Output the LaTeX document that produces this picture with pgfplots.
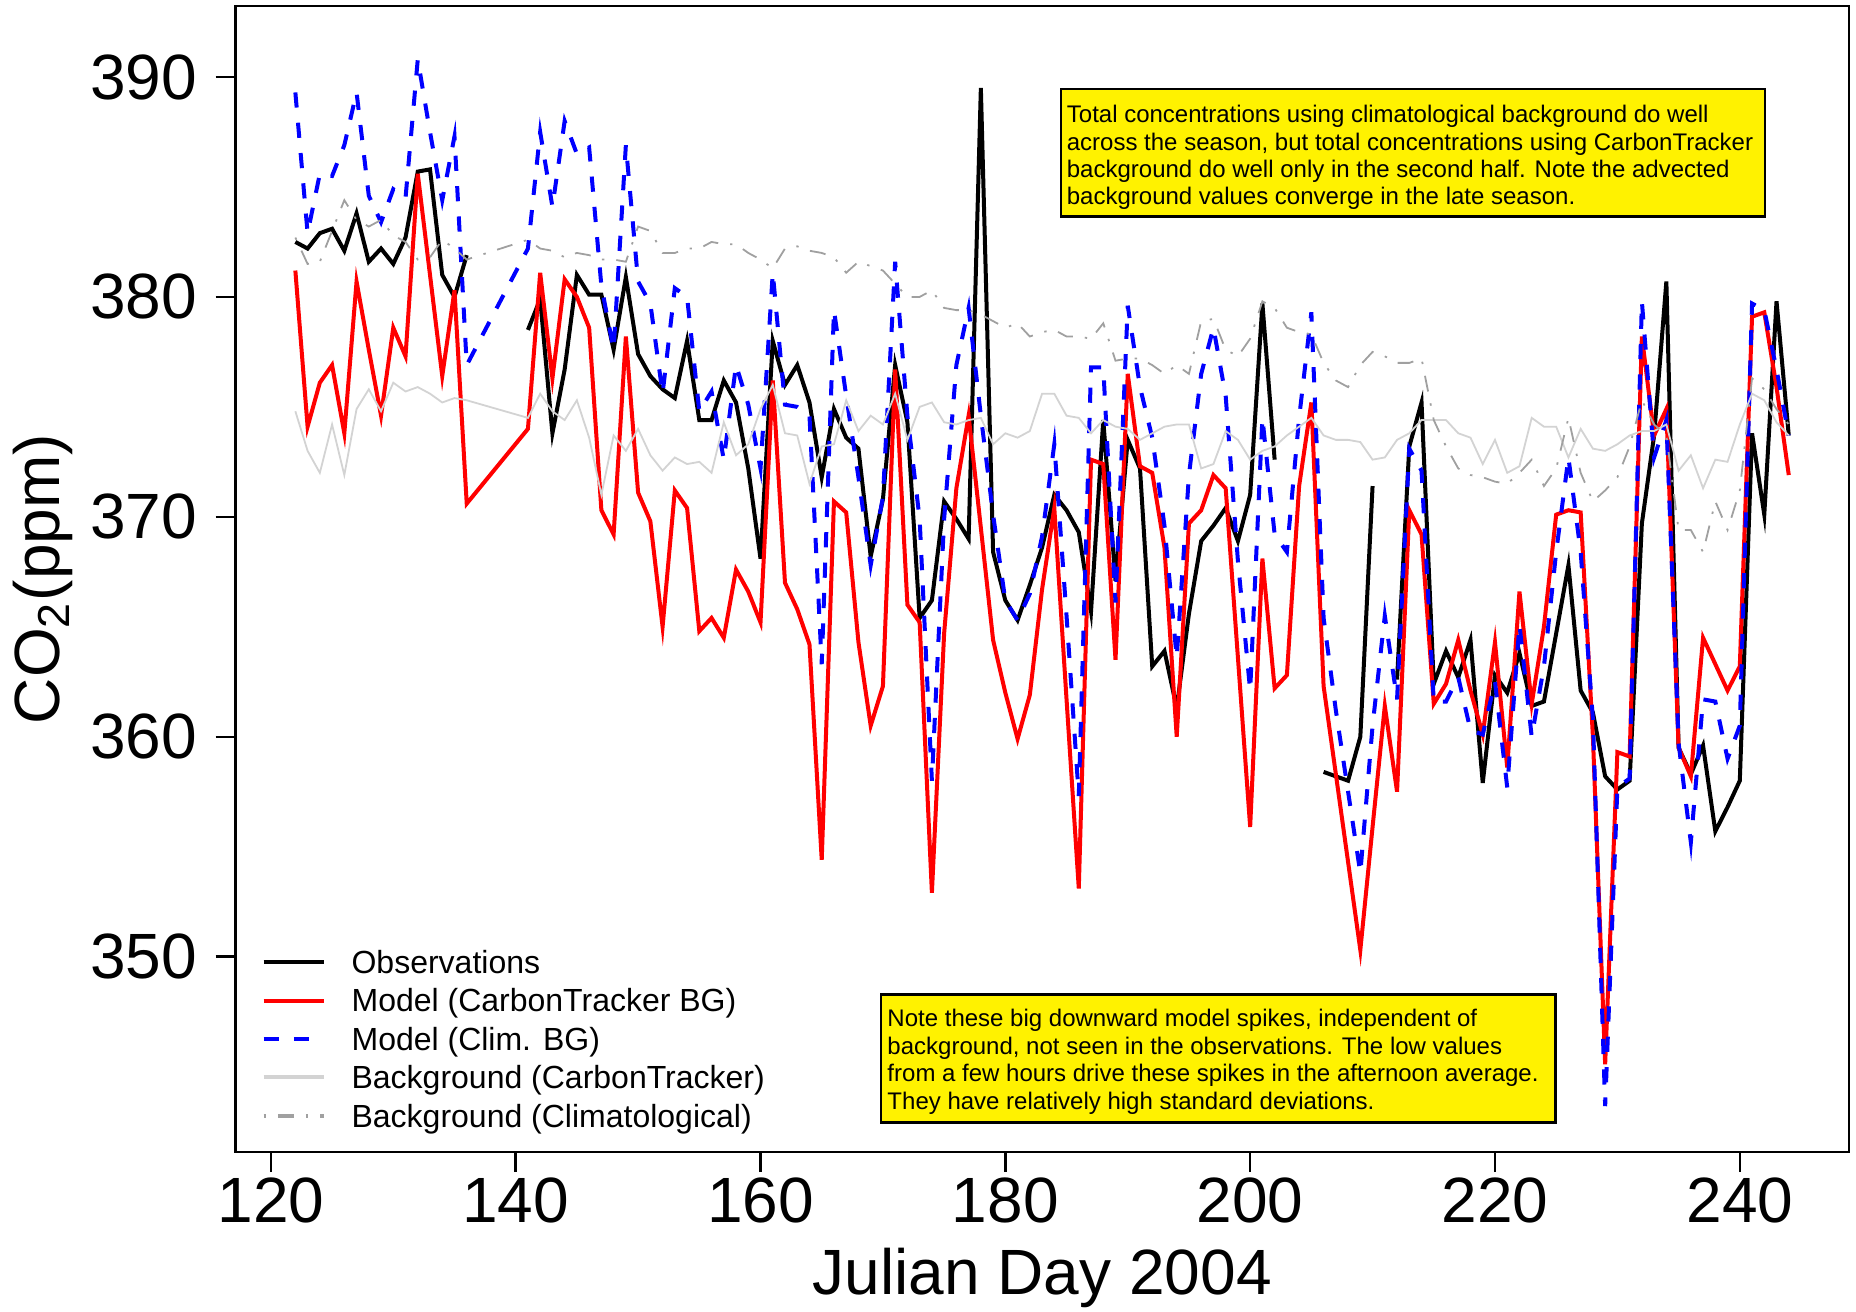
\documentclass[border=0pt]{standalone}
\usepackage{fontspec}
\setmainfont{Liberation Sans}
\usepackage{pgfplots}
\pgfplotsset{compat=1.18}
\usepackage{pgfplotstable}

\definecolor{bgct}{HTML}{D3D3D3}
\definecolor{bgcl}{HTML}{A0A0A0}

\pgfplotstableread{
d obs
122 382.5
123 382.2
124 382.9
125 383.1
126 382.1
127 383.8
128 381.6
129 382.2
130 381.5
131 382.7
132 385.7
133 385.8
134 381.0
135 380.0
136 381.9
137 nan
141 378.5
142 379.9
143 373.8
144 376.7
145 381.0
146 380.1
147 380.1
148 377.6
149 380.9
150 377.4
151 376.4
152 375.8
153 375.4
154 378.0
155 374.4
156 374.4
157 376.2
158 375.2
159 372.2
160 368.1
161 378.0
162 376.0
163 376.9
164 375.2
165 371.8
166 374.9
167 373.6
168 373.1
169 368.2
170 370.8
171 376.9
172 374.3
173 365.4
174 366.2
175 370.7
176 369.9
177 369.0
178 389.5
179 368.4
180 366.2
181 365.3
182 366.9
183 368.6
184 371.0
185 370.3
186 369.3
187 365.7
188 374.4
189 367.1
190 373.5
191 372.2
192 363.2
193 363.9
194 361.3
195 365.6
196 368.9
197 369.6
198 370.4
199 368.9
200 371.0
201 379.7
202 372.6
203 nan
206 358.4
207 358.2
208 358.0
209 360.0
210 371.4
211 nan
212 362.6
213 373.2
214 375.2
215 362.4
216 363.9
217 362.7
218 364.4
219 357.9
220 362.8
221 362.0
222 363.8
223 361.4
224 361.6
225 364.7
226 367.8
227 362.1
228 361.1
229 358.2
230 357.6
231 358.0
232 369.7
233 373.7
234 380.7
235 359.5
236 358.3
237 359.6
238 355.7
239 356.8
240 358.0
241 373.8
242 370.1
243 379.8
244 373.7
}\obsdata

\pgfplotstableread{
d ct cl bct bcl
122 381.2 389.3 374.8 382.7
123 374.1 382.9 373.0 381.5
124 376.1 385.6 372.0 381.6
125 376.9 385.5 374.2 383.0
126 373.8 386.9 371.9 384.4
127 380.7 389.3 374.9 383.5
128 377.6 384.6 375.8 383.2
129 374.6 383.4 374.8 383.5
130 378.6 384.9 376.1 382.8
131 377.3 384.5 375.7 382.5
132 385.6 390.8 375.9 381.7
133 381.0 387.5 375.6 381.8
134 376.4 384.4 375.2 382.6
135 380.3 387.3 375.4 382.2
136 370.6 376.9 375.3 381.7
141 374.0 382.2 374.5 382.6
142 381.1 387.5 375.6 382.2
143 376.3 384.1 374.8 382.1
144 380.8 388.0 374.4 381.8
145 380.0 386.5 375.3 382.0
146 378.6 386.8 373.6 381.9
147 370.3 380.5 371.0 381.7
148 369.2 377.6 373.7 381.7
149 378.2 386.9 373.0 381.6
150 371.1 380.7 374.0 383.2
151 369.8 379.7 372.8 383.0
152 365.0 375.6 372.1 382.0
153 371.2 380.4 372.7 382.0
154 370.4 380.0 372.4 382.2
155 364.8 374.8 372.5 382.2
156 365.4 375.7 372.0 382.5
157 364.5 372.6 374.3 382.4
158 367.6 376.9 372.8 382.4
159 366.6 375.1 373.3 382.0
160 365.2 372.2 374.9 381.7
161 376.2 381.1 376.0 381.3
162 367.0 375.1 373.8 382.2
163 365.8 375.0 373.7 382.3
164 364.2 374.6 371.5 382.1
165 354.4 363.3 373.2 382.0
166 370.7 379.4 373.3 381.8
167 370.2 375.5 375.3 381.1
168 364.3 371.8 373.9 381.6
169 360.5 367.8 374.6 381.4
170 362.3 370.9 374.2 381.2
171 376.7 381.6 375.6 380.6
172 366.0 374.6 373.5 380.0
173 365.2 369.9 375.0 380.0
174 352.9 358.0 375.2 380.3
175 364.7 369.9 374.3 379.5
176 371.3 376.9 374.2 379.4
177 374.6 379.5 374.4 379.4
178 369.5 374.6 374.5 379.2
179 364.4 370.1 373.3 378.9
180 362.0 366.2 373.8 378.6
181 359.9 365.3 373.6 378.8
182 361.9 366.5 373.9 378.2
183 366.7 369.1 375.6 378.4
184 370.4 373.3 375.6 378.5
185 361.7 365.5 374.6 378.2
186 353.1 357.3 374.5 378.2
187 372.6 376.8 373.8 378.1
188 372.4 376.8 374.4 378.8
189 363.5 366.1 374.1 377.1
190 376.5 379.6 374.0 377.2
191 372.3 375.9 373.5 377.2
192 372.0 373.6 373.8 376.9
193 368.6 369.6 374.1 376.5
194 360.0 363.6 374.2 376.9
195 369.7 371.9 374.2 376.5
196 370.3 376.5 372.2 378.9
197 371.9 378.6 372.4 379.0
198 371.3 375.5 373.9 377.6
199 363.6 368.0 373.5 377.3
200 355.9 362.1 372.6 378.1
201 368.1 374.5 373.0 379.8
202 362.2 369.2 373.2 379.5
203 362.8 368.4 373.7 378.6
204 371.4 374.5 374.1 378.4
205 375.2 379.3 374.5 378.3
206 362.3 365.4 373.7 377.0
207 358.3 361.2 373.5 376.2
208 354.3 357.5 373.5 375.9
209 350.3 353.8 373.4 376.9
210 355.9 360.5 372.6 377.5
211 361.4 365.5 372.7 377.3
212 357.5 361.7 373.5 377.0
213 370.3 373.1 373.8 377.0
214 369.2 372.1 374.4 377.2
215 361.5 361.6 374.4 374.4
216 362.4 361.6 374.4 373.2
217 364.4 362.7 373.8 372.2
218 362.1 360.3 373.6 371.9
219 360.1 360.1 372.4 371.8
220 364.3 362.5 373.5 371.6
221 358.6 357.7 372.0 371.5
222 366.6 365.1 372.3 372.0
223 361.5 360.0 374.5 372.6
224 365.0 363.2 374.1 371.4
225 370.1 368.4 374.1 372.2
226 370.3 372.7 372.7 374.5
227 370.2 368.4 374.0 372.0
228 360.0 360.8 373.1 370.7
229 345.1 343.2 373.0 371.2
230 359.3 357.7 373.3 371.8
231 359.1 358.1 373.7 373.2
232 378.2 379.8 373.9 375.3
233 373.7 372.7 373.9 374.2
234 374.9 374.4 374.2 373.7
235 359.5 359.7 372.1 369.4
236 358.2 355.2 372.8 369.4
237 364.5 361.7 371.3 368.4
238 363.3 361.6 372.6 370.7
239 362.1 359.0 372.5 369.4
240 363.2 360.5 374.2 371.2
241 379.1 379.7 375.6 376.3
242 379.3 379.4 375.3 375.8
243 375.9 376.7 374.3 374.9
244 371.9 373.7 373.7 374.2
}\moddata

\begin{document}
\begin{tikzpicture}
\begin{axis}[
  at={(0,0)}, anchor=south west,
  scale only axis, width=403.3pt, height=286.5pt,
  xmin=117.12, xmax=248.92, ymin=341.11, ymax=393.23,
  xtick={120,140,...,240}, ytick={350,360,...,390},
  tick align=outside, tick pos=left, major tick length=5pt,
  axis line style={line width=0.6pt},
  every tick/.style={black, line width=0.6pt},
  ticklabel style={font=\fontsize{16}{19}\selectfont},
  /pgf/number format/assume math mode=true,
  /pgf/number format/1000 sep={},
  xticklabel style={anchor=north, inner sep=0pt, yshift=-1.2pt},
  yticklabel style={anchor=east, inner sep=0pt, xshift=-4.5pt},
  xlabel={Julian Day 2004},
  xlabel style={at={(axis description cs:0.5,-0.1095)}, anchor=center, font=\fontsize{16}{19}\selectfont, inner sep=0pt},
  ylabel={CO\textsubscript{2}(ppm)},
  ylabel style={at={(axis description cs:-0.1195,0.5)}, anchor=center, font=\fontsize{16}{19}\selectfont, inner sep=0pt},
  legend image code/.code={\draw[#1] (0pt,0pt) -- (15pt,0pt);},
  legend style={at={(axis description cs:0.0161,0.1824)}, anchor=north west,
    draw=none, fill=none, inner sep=0pt, outer sep=0pt,
    column sep=6.5pt, row sep=0pt,
    font=\fontsize{8}{9.6}\selectfont,
    nodes={inner sep=0pt, text height=7.6pt, text depth=2pt}},
  legend cell align=left,
]
\addplot[black, line width=1pt, unbounded coords=jump] table[x=d, y=obs] {\obsdata};
\addlegendentry{Observations}
\addplot[red, line width=1pt] table[x=d, y=ct] {\moddata};
\addlegendentry{Model (CarbonTracker BG)}
\addplot[blue, line width=1pt, dash pattern=on 3.8pt off 3.8pt] table[x=d, y=cl] {\moddata};
\addlegendentry{Model (Clim. BG)}
\addplot[bgct, line width=0.45pt, legend image post style={line width=1pt}] table[x=d, y=bct] {\moddata};
\addlegendentry{Background (CarbonTracker)}
\addplot[bgcl, line width=0.45pt, dash pattern=on 0.6pt off 3pt on 4pt off 3pt, legend image post style={line width=1pt}] table[x=d, y=bcl] {\moddata};
\addlegendentry{Background (Climatological)}

\draw[fill=yellow, line width=0.6pt] (axis cs:184.57,383.65) rectangle (axis cs:242.07,389.46);
\node[anchor=north west, inner sep=0pt, align=left, font=\fontsize{6}{6.85}\selectfont]
  at ([xshift=1.2pt,yshift=-3.9pt]axis cs:184.57,389.46)
  {Total concentrations using climatological background do well\\
   across the season, but total concentrations using CarbonTracker\\
   background do well only in the second half. Note the advected\\
   background values converge in the late season.};
\draw[fill=yellow, line width=0.6pt] (axis cs:169.85,342.45) rectangle (axis cs:224.94,348.27);
\node[anchor=north west, inner sep=0pt, align=left, font=\fontsize{6}{6.9}\selectfont]
  at ([xshift=1.4pt,yshift=-3.4pt]axis cs:169.85,348.27)
  {Note these big downward model spikes, independent of\\
   background, not seen in the observations. The low values\\
   from a few hours drive these spikes in the afternoon average.\\
   They have relatively high standard deviations.};
\end{axis}
\path[use as bounding box] (-58.9pt,-39.75pt) rectangle (405.05pt,288pt);
\end{tikzpicture}
\end{document}
